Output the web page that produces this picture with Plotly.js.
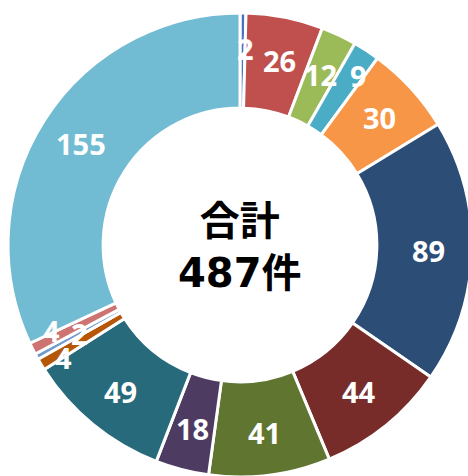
<!DOCTYPE html>
<html><head><meta charset="utf-8">
<script src="https://cdn.plot.ly/plotly-3.0.1.min.js"></script>
<style>html,body{margin:0;padding:0;background:#fff;overflow:hidden}</style>
</head><body>
<div id="chart" style="width:480px;height:480px"></div>
<script>
const categories = ["A","B","C","D","E","F","G","H","I","J","K","L","M","N"];
const values = [2, 26, 12, 9, 30, 89, 44, 41, 18, 49, 4, 2, 4, 155];
const colors = ["#4472C4","#C0504D","#9BBB59","#4BACC6","#F79646","#2C4D75","#772C2A","#5F7530","#4D3B62","#276A7C","#B65708","#729ACA","#CD7371","#71BBD3"];
const centerLines = ["合計", "487件"];

// label placement nudges (style only): radial px, angle deg
const labelRadialNudge = [8, 0, 0, 18, 0, 0, 0, 0, 0, 0, 20, -6, 18, 0];
const labelAngleNudge  = [1, 1, 0, 2, 0, 0, 0, 0, 0, 0, -1.5, 0, 2, 0];

const W = 480, H = 480;
const cx = 240, cy = 245, R = 232, hole = 0.59;

const trace = {
  type: "pie",
  labels: categories,
  values: values,
  sort: false,
  direction: "clockwise",
  rotation: 0,
  hole: hole,
  marker: {colors: colors, line: {color: "#ffffff", width: 3}},
  textinfo: "none",
  domain: {x: [(cx - R) / W, (cx + R) / W], y: [1 - (cy + R) / H, 1 - (cy - R) / H]},
  showlegend: false,
  hoverinfo: "none"
};

const total = values.reduce((a, b) => a + b, 0);
const rLab = 189;
const annotations = [];
let cum = 0;
values.forEach((v, i) => {
  const th = ((cum + v / 2) / total * 360 + labelAngleNudge[i]) * Math.PI / 180;
  cum += v;
  const r = rLab + labelRadialNudge[i];
  const px = cx + r * Math.sin(th);
  const py = cy - r * Math.cos(th);
  annotations.push({
    text: "<b>" + v + "</b>",
    x: px / W, y: 1 - py / H, xref: "paper", yref: "paper",
    xanchor: "center", yanchor: "middle",
    showarrow: false,
    font: {family: "Noto Sans", size: 29, color: "#ffffff"}
  });
});
annotations.push({
  text: "<b>" + centerLines.join("<br>") + "</b>",
  x: cx / W, y: 1 - (cy + 2) / H, xref: "paper", yref: "paper",
  xanchor: "center", yanchor: "middle",
  showarrow: false,
  font: {family: "DejaVu Sans, Noto Sans CJK JP", size: 40, color: "#000000"}
});

const layout = {
  width: W, height: H,
  margin: {l: 0, r: 0, t: 0, b: 0},
  paper_bgcolor: "#ffffff",
  annotations: annotations
};

Plotly.newPlot("chart", [trace], layout, {staticPlot: true});
</script>
</body></html>
